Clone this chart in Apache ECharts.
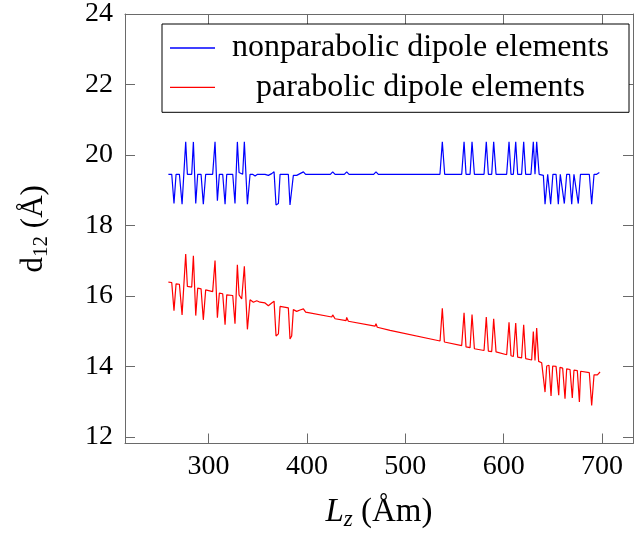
<!DOCTYPE html>
<html>
<head>
<meta charset="utf-8">
<script src="https://cdn.jsdelivr.net/npm/echarts@6/dist/echarts.min.js"></script>
<style>
html,body{margin:0;padding:0;background:#fff;}
#chart{width:635px;height:536px;}
</style>
</head>
<body>
<div id="chart"></div>
<script>
const seriesNames = ['nonparabolic dipole elements', 'parabolic dipole elements'];
const xTicks = [300, 400, 500, 600, 700];
const yTicks = [12, 14, 16, 18, 20, 22, 24];

const lzNonparabolic = [259.2,262.6,264.9,267.0,270.4,273.1,276.8,278.5,282.9,284.6,287.0,289.0,292.4,294.7,297.1,304.2,306.6,309.0,311.0,314.4,316.8,318.5,324.6,326.9,329.3,331.0,333.0,334.7,336.4,339.5,342.2,344.8,347.3,349.8,357.4,360.8,364.2,366.6,368.6,371.0,372.7,381.1,382.8,384.5,386.2,389.6,393.0,396.4,398.7,423.8,426.2,428.6,438.0,440.4,442.8,467.8,470.2,472.6,535.2,537.6,540.0,557.3,559.7,561.7,565.8,567.8,570.2,580.0,582.3,584.4,587.8,589.8,592.2,603.0,605.4,607.4,609.8,612.2,614.2,618.2,620.3,622.3,627.7,630.1,631.8,633.5,636.0,637.5,640.3,642.0,644.7,645.8,647.7,650.0,653.2,655.5,657.5,659.3,661.6,664.0,666.9,669.1,671.4,673.4,675.8,678.0,687.0,689.4,691.8,694.5,697.2];
const d12Nonparabolic = [19.45,19.45,18.62,19.45,19.45,18.60,20.37,19.45,19.45,20.37,18.62,19.45,19.45,18.60,19.45,19.45,20.37,18.70,19.45,19.45,18.60,19.45,19.45,18.62,20.37,19.50,19.45,19.45,20.37,18.60,19.45,19.45,19.40,19.45,19.45,19.42,19.47,19.52,18.58,18.62,19.45,19.45,18.58,18.62,19.42,19.42,19.47,19.52,19.45,19.45,19.52,19.45,19.45,19.52,19.45,19.45,19.52,19.45,19.45,20.37,19.45,19.45,20.37,19.45,19.45,20.37,19.45,19.45,20.37,19.45,19.45,20.37,19.45,19.45,20.37,19.45,19.45,20.37,19.45,19.45,20.37,19.45,19.45,20.37,19.45,20.37,19.45,19.45,19.42,18.60,19.45,19.45,18.60,19.45,19.45,18.60,19.45,19.45,18.62,19.45,19.45,18.60,19.45,19.45,18.62,19.45,19.45,18.60,19.45,19.45,19.50];

const lzParabolic = [259.2,262.6,264.9,267.0,270.4,273.1,276.8,278.5,282.9,284.6,287.0,289.0,292.4,294.7,297.1,304.2,306.6,309.0,311.0,314.4,316.8,318.5,324.6,326.9,329.3,331.0,333.7,336.4,339.5,342.2,345.6,349.0,352.3,357.4,360.8,364.2,366.6,368.6,371.0,372.7,381.1,382.8,384.5,386.2,389.6,393.0,396.4,398.7,425.2,426.2,428.6,439.8,440.4,442.1,469.2,470.2,471.5,484.5,535.3,537.6,539.7,557.3,559.7,561.7,565.8,567.8,570.2,580.0,582.3,584.4,587.8,589.8,592.2,603.0,605.4,607.4,609.8,612.2,614.2,618.2,620.3,622.3,628.4,630.1,631.8,633.5,635.5,638.6,639.6,642.0,643.7,646.0,648.1,649.8,653.2,655.9,657.2,659.9,662.3,664.0,667.4,669.7,671.4,674.8,676.9,678.2,687.0,689.4,691.8,695.2,697.9];
const d12Parabolic = [16.39,16.38,15.58,16.34,16.33,15.46,17.19,16.27,16.25,17.14,15.44,16.22,16.20,15.32,16.17,16.12,17.00,15.38,16.08,16.06,15.18,16.03,16.01,15.21,16.88,16.03,15.91,16.84,15.05,15.89,15.82,15.86,15.82,15.80,15.72,15.80,15.85,14.86,14.92,15.70,15.66,14.78,14.86,15.61,15.56,15.60,15.63,15.54,15.40,15.46,15.35,15.30,15.39,15.28,15.14,15.21,15.11,15.02,14.72,15.65,14.69,14.59,15.52,14.55,14.53,15.47,14.50,14.45,15.40,14.43,14.42,15.35,14.41,14.33,15.25,14.30,14.28,15.23,14.26,14.24,15.18,14.22,14.18,14.99,14.17,15.09,14.14,14.10,14.10,13.27,14.01,14.03,13.16,14.01,14.00,13.18,13.97,13.95,13.08,13.93,13.91,13.10,13.89,13.88,12.99,13.86,13.82,12.89,13.76,13.76,13.84];

const zip = (xs, ys) => xs.map((x, i) => [x, ys[i]]);

const FONT = '"Liberation Serif", "DejaVu Serif", serif';
const AXC = '#6a6a6a';
const X_MIN = 215.1, X_MAX = 731.4, Y_MIN = 11.81, Y_MAX = 24;

const chart = echarts.init(document.getElementById('chart'), null, {renderer: 'canvas'});

const axisLine = {show: true, onZero: false, lineStyle: {color: AXC, width: 1}};
const tickStyle = {color: AXC, width: 1};

chart.setOption({
  animation: false,
  backgroundColor: '#fff',
  grid: {left: 125, right: 2, top: 14, bottom: 91, containLabel: false},
  legend: {
    orient: 'vertical',
    left: 162, top: 24,
    padding: [8, 8, 9, 8],
    borderColor: '#000', borderWidth: 1,
    backgroundColor: '#fff',
    icon: 'rect',
    itemWidth: 45, itemHeight: 1.3, itemGap: 7.3,
    data: seriesNames,
    formatter: name => '{t|' + name + '}',
    textStyle: {
      rich: {t: {width: 401, align: 'center', fontFamily: FONT, fontSize: 32, lineHeight: 30, color: '#000'}}
    }
  },
  xAxis: [{
    type: 'value', min: X_MIN, max: X_MAX, position: 'bottom',
    axisLine: axisLine,
    axisTick: {show: true, inside: true, length: 10, customValues: xTicks, lineStyle: tickStyle},
    axisLabel: {show: true, customValues: xTicks, margin: 9, fontFamily: FONT, fontSize: 28, color: '#000'},
    splitLine: {show: false},
    name: '{i|L}{s|z}{n| (Åm)}',
    nameLocation: 'middle', nameGap: 51,
    nameTextStyle: {
      rich: {
        i: {fontFamily: FONT, fontSize: 33, fontStyle: 'italic', lineHeight: 36, color: '#000'},
        s: {fontFamily: FONT, fontSize: 23, fontStyle: 'italic', lineHeight: 22, padding: [14, 0, 0, 0], color: '#000'},
        n: {fontFamily: FONT, fontSize: 33, lineHeight: 36, color: '#000'}
      }
    }
  }, {
    type: 'value', min: X_MIN, max: X_MAX, position: 'top',
    axisLine: axisLine,
    axisTick: {show: true, inside: true, length: 10, customValues: xTicks, lineStyle: tickStyle},
    axisLabel: {show: false},
    splitLine: {show: false}
  }],
  yAxis: [{
    type: 'value', min: Y_MIN, max: Y_MAX, position: 'left',
    axisLine: axisLine,
    axisTick: {show: true, inside: true, length: 10, customValues: yTicks, lineStyle: tickStyle},
    axisLabel: {show: true, customValues: yTicks, margin: 12, fontFamily: FONT, fontSize: 28, color: '#000'},
    splitLine: {show: false},
    name: '{n|d}{s|12}{n| (Å)}',
    nameLocation: 'middle', nameGap: 74, nameRotate: 90,
    nameTextStyle: {
      rich: {
        n: {fontFamily: FONT, fontSize: 31, lineHeight: 34, color: '#000'},
        s: {fontFamily: FONT, fontSize: 21, lineHeight: 20, padding: [14, 0, 0, 0], color: '#000'}
      }
    }
  }, {
    type: 'value', min: Y_MIN, max: Y_MAX, position: 'right',
    axisLine: axisLine,
    axisTick: {show: true, inside: true, length: 10, customValues: yTicks, lineStyle: tickStyle},
    axisLabel: {show: false},
    splitLine: {show: false}
  }],
  series: [{
    name: seriesNames[0], type: 'line', xAxisIndex: 0, yAxisIndex: 0,
    data: zip(lzNonparabolic, d12Nonparabolic),
    symbol: 'none', showSymbol: false,
    color: '#0000ff', lineStyle: {color: '#0000ff', width: 1.2}
  }, {
    name: seriesNames[1], type: 'line', xAxisIndex: 0, yAxisIndex: 0,
    data: zip(lzParabolic, d12Parabolic),
    symbol: 'none', showSymbol: false,
    color: '#ff0000', lineStyle: {color: '#ff0000', width: 1.2}
  }]
});
</script>
</body>
</html>
